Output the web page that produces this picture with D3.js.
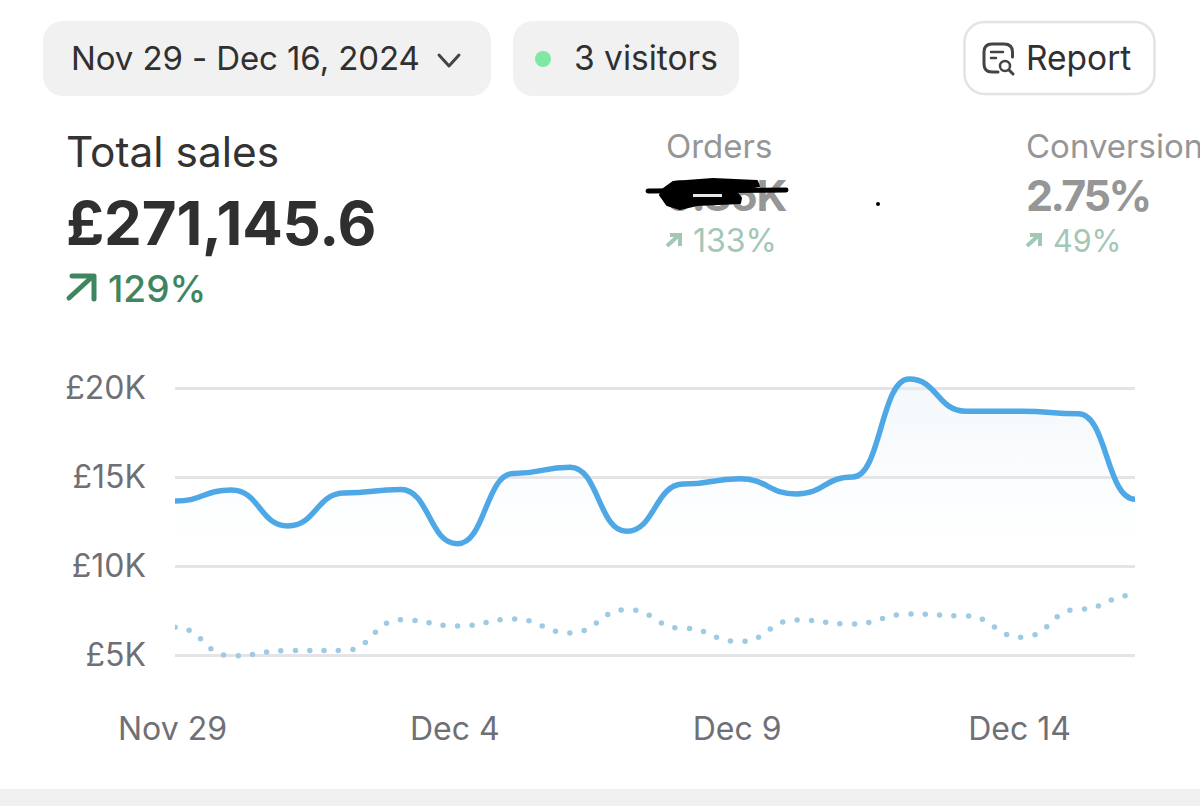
<!DOCTYPE html>
<html>
<head>
<meta charset="utf-8">
<script src="https://cdn.jsdelivr.net/npm/d3@7"></script>
<style>
  html, body { margin: 0; padding: 0; background: #fff; overflow: hidden; }
  svg { display: block; font-family: Inter, "Noto Sans", sans-serif; }
  .axis .domain { display: none; }
  .axis text { fill: #6f6f76; font-family: Inter, sans-serif; font-size: 32px; }
  .y .tick line { stroke: #e4e4e7; stroke-width: 3; }
  .x .tick line { display: none; }
</style>
</head>
<body>
<svg id="chart" width="1200" height="806"></svg>
<script>
var days = ['Nov 29', 'Nov 30', 'Dec 1', 'Dec 2', 'Dec 3', 'Dec 4', 'Dec 5', 'Dec 6', 'Dec 7',
            'Dec 8', 'Dec 9', 'Dec 10', 'Dec 11', 'Dec 12', 'Dec 13', 'Dec 14', 'Dec 15', 'Dec 16'];
var current = [13650, 14270, 12250, 14100, 14300, 11250, 15200, 15550, 11950,
               14600, 14900, 14050, 15000, 20500, 18700, 18700, 18550, 13750];
var previous = [6560, 4950, 5250, 5250, 6980, 6630, 7020, 6240, 7550,
                6500, 5750, 6970, 6740, 7300, 7200, 6000, 7570, 8370];
var yTicks = [5000, 10000, 15000, 20000];
var xTicks = ['Nov 29', 'Dec 4', 'Dec 9', 'Dec 14'];

var svg = d3.select('#chart');

var x = d3.scalePoint().domain(days).range([175, 1135]);
var y = d3.scaleLinear().domain([5000, 20000]).range([655, 388]);

// page strip along the bottom
svg.append('rect').attr('x', 0).attr('y', 789).attr('width', 1200).attr('height', 17).attr('fill', '#f0f0f0');

// top pills
svg.append('rect').attr('x', 43).attr('y', 21).attr('width', 448).attr('height', 75).attr('rx', 20).attr('fill', '#f1f1f1');
svg.append('rect').attr('x', 513).attr('y', 21).attr('width', 226).attr('height', 75).attr('rx', 20).attr('fill', '#f1f1f1');
svg.append('rect').attr('x', 964.5).attr('y', 22).attr('width', 190).attr('height', 72).attr('rx', 20)
    .attr('fill', '#fff').attr('stroke', '#e3e3e3').attr('stroke-width', 2.5);

var label = function(txt, px, py, size, color, weight, spacing) {
    return svg.append('text').attr('x', px).attr('y', py)
        .attr('font-size', size).attr('fill', color).attr('font-weight', weight || 400)
        .attr('letter-spacing', spacing || 0)
        .text(txt);
};

label('Nov 29 - Dec 16, 2024', 71, 70, 33, '#303030', 400, -0.1);
svg.append('path').attr('d', 'M439 55 L449 66 L459 55').attr('fill', 'none')
    .attr('stroke', '#444').attr('stroke-width', 3).attr('stroke-linecap', 'round').attr('stroke-linejoin', 'round');
svg.append('circle').attr('cx', 543).attr('cy', 59).attr('r', 8).attr('fill', '#7fe8a2');
label('3 visitors', 574, 70, 33.5, '#303030');
label('Report', 1026, 70, 33.5, '#303030');

// report icon
svg.append('path').attr('d', 'M998 72 H992 Q984 72 984 64 V52 Q984 44 992 44 H1004 Q1012.5 44 1012.5 52 V57')
    .attr('fill', 'none').attr('stroke', '#444').attr('stroke-width', 3).attr('stroke-linecap', 'round');
svg.append('path').attr('d', 'M991 52 H1003 M991 58 H996')
    .attr('fill', 'none').attr('stroke', '#444').attr('stroke-width', 2.5).attr('stroke-linecap', 'round');
svg.append('circle').attr('cx', 1005).attr('cy', 66).attr('r', 5).attr('fill', 'none').attr('stroke', '#444').attr('stroke-width', 2.5);
svg.append('path').attr('d', 'M1009 70 L1013 74').attr('stroke', '#444').attr('stroke-width', 3).attr('stroke-linecap', 'round');

// headline metrics
label('Total sales', 66, 167, 42.4, '#333333');
label('£271,145.6', 66, 245, 60, '#2f2f2f', 700, -0.2);
label('129%', 108, 302, 37, '#3f8560', 500);
svg.append('path').attr('d', 'M69 298 L92 277 M72 276 H94 V299').attr('fill', 'none')
    .attr('stroke', '#3f8560').attr('stroke-width', 5).attr('stroke-linecap', 'round').attr('stroke-linejoin', 'round');

label('Orders', 666, 158, 33, '#969696');
label('9.85K', 666, 211, 43, '#969696', 700, -1.2);
label('133%', 693, 252, 32, '#a3c6b5');
svg.append('path').attr('d', 'M667 246 L679 235 M670 235 H680 V246').attr('fill', 'none')
    .attr('stroke', '#a3c6b5').attr('stroke-width', 4);

label('Conversion', 1026, 158, 33, '#969696');
label('2.75%', 1026, 211, 43, '#969696', 700, -2.5);
label('49%', 1053, 252, 30.5, '#a3c6b5');
svg.append('path').attr('d', 'M1027 246 L1039 235 M1030 235 H1040 V246').attr('fill', 'none')
    .attr('stroke', '#a3c6b5').attr('stroke-width', 4);

// marker scribble over the orders figure
svg.append('path').attr('d', 'M662 190 L673 182 L713 179 L757 181 L759 186 L735 191 L741 198 L740 203 L697 205 L680 209 L667 205 L660 195 Z')
    .attr('fill', '#000').attr('stroke', '#000').attr('stroke-width', 2).attr('stroke-linejoin', 'round');
svg.append('path').attr('d', 'M648 191 L786 190').attr('stroke', '#000').attr('stroke-width', 5).attr('stroke-linecap', 'round');
svg.append('rect').attr('x', 693).attr('y', 194).attr('width', 29).attr('height', 3).attr('fill', '#e8e8e8');
svg.append('circle').attr('cx', 878).attr('cy', 204).attr('r', 2).attr('fill', '#000');

// grid and axes
svg.append('g').attr('class', 'axis y')
    .attr('transform', 'translate(175,0)')
    .call(d3.axisLeft(y).tickValues(yTicks).tickSize(-960).tickPadding(29)
        .tickFormat(function(d) { return '£' + d / 1000 + 'K'; }));

svg.append('g').attr('class', 'axis x')
    .attr('transform', 'translate(-3,717)')
    .call(d3.axisBottom(x).tickValues(xTicks).tickSize(0).tickPadding(0))
    .selectAll('text').attr('dy', '0.71em');

// clip
svg.append('clipPath').attr('id', 'plot')
    .append('rect').attr('x', 175).attr('y', 360).attr('width', 960).attr('height', 310);

// area fade
var defs = svg.append('defs');
var grad = defs.append('linearGradient').attr('id', 'fade')
    .attr('gradientUnits', 'userSpaceOnUse').attr('x1', 0).attr('x2', 0).attr('y1', 380).attr('y2', 545);
grad.append('stop').attr('offset', 0).attr('stop-color', '#e6f0f7').attr('stop-opacity', 0.45);
grad.append('stop').attr('offset', 1).attr('stop-color', '#e6f0f7').attr('stop-opacity', 0);

var curve = d3.curveBumpX;

svg.append('path').datum(current)
    .attr('clip-path', 'url(#plot)')
    .attr('fill', 'url(#fade)')
    .attr('d', d3.area()
        .x(function(d, i) { return x(days[i]); })
        .y0(y(10000))
        .y1(function(d) { return y(d); })
        .curve(curve));

svg.append('path').datum(previous)
    .attr('clip-path', 'url(#plot)')
    .attr('fill', 'none')
    .attr('stroke', '#9fcae3')
    .attr('stroke-width', 5.5)
    .attr('stroke-linecap', 'round')
    .attr('stroke-dasharray', '0 14.4')
    .attr('d', d3.line()
        .x(function(d, i) { return x(days[i]); })
        .y(function(d) { return y(d); })
        .curve(curve));

svg.append('path').datum(current)
    .attr('clip-path', 'url(#plot)')
    .attr('fill', 'none')
    .attr('stroke', '#4fa8e6')
    .attr('stroke-width', 5.5)
    .attr('d', d3.line()
        .x(function(d, i) { return x(days[i]); })
        .y(function(d) { return y(d); })
        .curve(curve));
</script>
</body>
</html>
